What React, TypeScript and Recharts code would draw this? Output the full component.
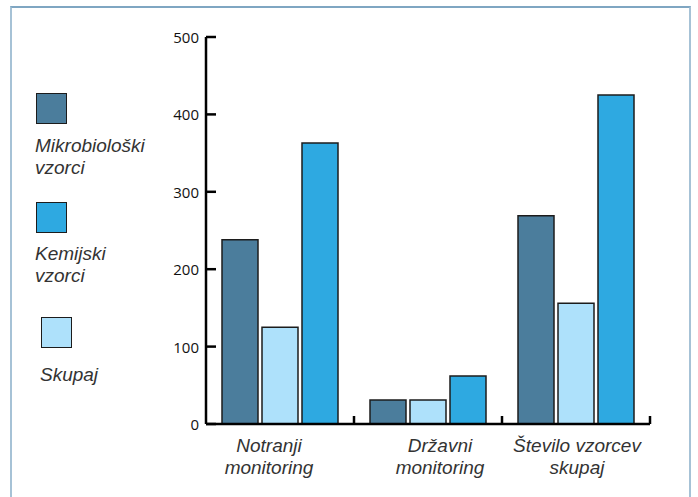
import { Bar, BarChart, XAxis, YAxis } from "recharts";

const categories = [
  ["Notranji", "monitoring"],
  ["Državni", "monitoring"],
  ["Število vzorcev", "skupaj"],
];
const mikrobioloski = [238, 31, 269];
const skupaj = [125, 31, 156];
const kemijski = [363, 62, 425];
const yTicks = [0, 100, 200, 300, 400, 500];

const seriesNames = ["Mikrobiološki vzorci", "Kemijski vzorci", "Skupaj"];

const DARK = "#4b7d9c";
const BRIGHT = "#2ea9e1";
const LIGHT = "#aee1fb";
const OUTLINE = "#1c1c1c";

const data = categories.map((c, i) => ({
  name: c.join(" "),
  lines: c,
  mikro: mikrobioloski[i],
  skupaj: skupaj[i],
  kem: kemijski[i],
}));

// plot area
const W = 698;
const H = 497;
const PLOT_LEFT = 206;
const PLOT_RIGHT = 650;
const PLOT_TOP = 37;
const PLOT_BOTTOM = 424;
const Y_AXIS_W = 60;
const X_AXIS_H = 60;
const halfBand = (PLOT_RIGHT - PLOT_LEFT) / categories.length / 2;
const labelShift = [-11, 12, 1];

const tickFont = "'Open Sans', 'Noto Sans', sans-serif";
const labelFont = "'Liberation Sans', Arial, sans-serif";

function YTick(props: any) {
  const { x, y, payload } = props;
  return (
    <g>
      <line x1={x} x2={x + 10} y1={y} y2={y} stroke="#000" strokeWidth={2.5} />
      <text x={x - 7} y={y} textAnchor="end" dominantBaseline="central" fontSize={15} fill="#111" fontFamily={tickFont}>
        {payload.value}
      </text>
    </g>
  );
}

function XTick(props: any) {
  const { x, y, index } = props;
  const lines = data[index]?.lines ?? [];
  const cx = x + (labelShift[index] ?? 0);
  return (
    <g>
      <line x1={x + halfBand} x2={x + halfBand} y1={y} y2={y - 8} stroke="#000" strokeWidth={2.5} />
      <text y={y} textAnchor="middle" fontSize={19} fontStyle="italic" fill="#333" fontFamily={labelFont}>
        <tspan x={cx} dy={28}>{lines[0]}</tspan>
        <tspan x={cx} dy={22}>{lines[1]}</tspan>
      </text>
    </g>
  );
}

function Swatch({ color, left, top }: { color: string; left: number; top: number }) {
  return (
    <div
      style={{
        position: "absolute",
        left,
        top,
        width: 29,
        height: 29,
        background: color,
        border: `1.5px solid ${OUTLINE}`,
      }}
    />
  );
}

function LegendText({ text, left, top }: { text: string; left: number; top: number }) {
  const words = text.split(" ");
  return (
    <div
      style={{
        position: "absolute",
        left,
        top,
        fontFamily: labelFont,
        fontStyle: "italic",
        fontSize: 19,
        lineHeight: "22px",
        color: "#333",
      }}
    >
      {words.map((w) => (
        <div key={w}>{w}</div>
      ))}
    </div>
  );
}

export default function App() {
  return (
    <div style={{ position: "absolute", left: 0, top: 0, width: W, height: H, overflow: "hidden", background: "#fff" }}>
      <div
        style={{
          position: "absolute",
          left: 10,
          top: 6,
          width: 681,
          height: 540,
          border: "2px solid #a6c2d6",
          borderTopColor: "#7fa6c2",
          boxSizing: "border-box",
        }}
      />
      <Swatch color={DARK} left={36} top={93} />
      <LegendText text={seriesNames[0]} left={35} top={135} />
      <Swatch color={BRIGHT} left={36} top={202} />
      <LegendText text={seriesNames[1]} left={35} top={243} />
      <Swatch color={LIGHT} left={41} top={317} />
      <LegendText text={seriesNames[2]} left={40} top={364} />
      <div style={{ position: "absolute", left: 0, top: 0 }}>
        <BarChart
          width={W}
          height={H}
          data={data}
          margin={{ top: PLOT_TOP, right: W - PLOT_RIGHT, left: PLOT_LEFT - Y_AXIS_W, bottom: H - PLOT_BOTTOM - X_AXIS_H }}
          barCategoryGap={16}
          barGap={4}
        >
          <XAxis
            dataKey="name"
            height={X_AXIS_H}
            tickLine={false}
            tickSize={0}
            tickMargin={0}
            axisLine={{ stroke: "#000", strokeWidth: 2.5 }}
            tick={<XTick />}
            interval={0}
          />
          <YAxis
            width={Y_AXIS_W}
            domain={[0, 500]}
            ticks={yTicks}
            tickLine={false}
            tickSize={0}
            tickMargin={0}
            axisLine={{ stroke: "#000", strokeWidth: 2.5 }}
            tick={<YTick />}
            interval={0}
          />
          <Bar dataKey="mikro" fill={DARK} stroke={OUTLINE} strokeWidth={1.5} isAnimationActive={false} />
          <Bar dataKey="skupaj" fill={LIGHT} stroke={OUTLINE} strokeWidth={1.5} isAnimationActive={false} />
          <Bar dataKey="kem" fill={BRIGHT} stroke={OUTLINE} strokeWidth={1.5} isAnimationActive={false} />
        </BarChart>
      </div>
    </div>
  );
}
